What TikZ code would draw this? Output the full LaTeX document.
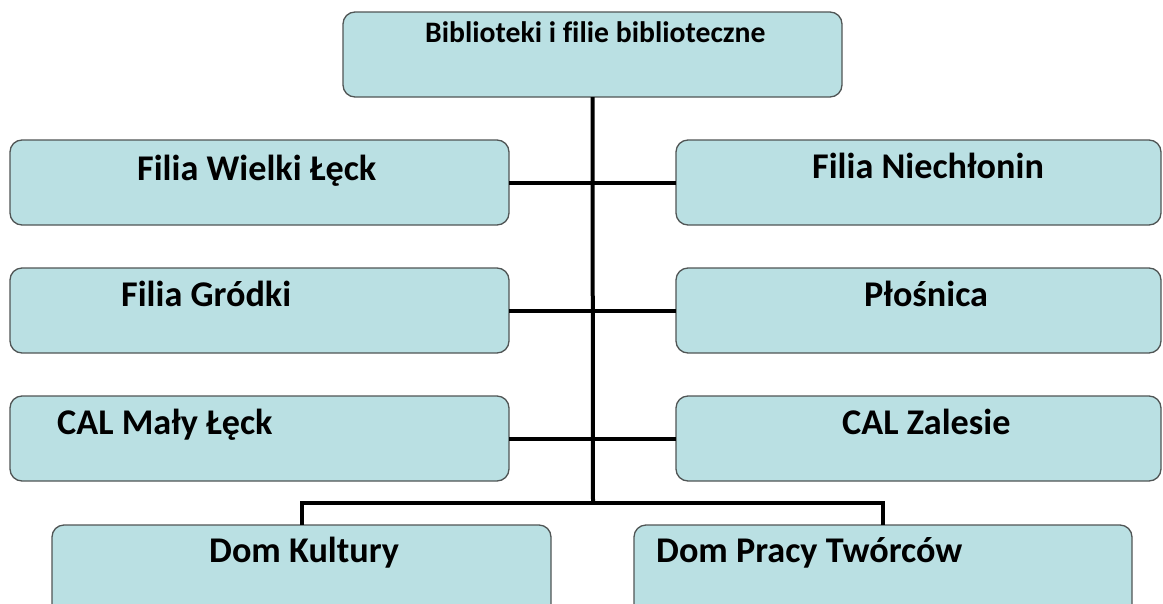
\documentclass[tikz,border=0pt]{standalone}
\usepackage{fontspec}
\setmainfont{Carlito}[Ligatures=NoCommon]
\definecolor{boxfill}{RGB}{186,224,227}
\definecolor{boxline}{RGB}{80,85,85}
\begin{document}
\begin{tikzpicture}[x=1pt,y=-1pt,
  box/.style={draw=boxline, line width=1.3pt, fill=boxfill, rounded corners=12pt,
    inner sep=0pt, outer sep=0pt, anchor=north west},
  lbl/.style={inner sep=0pt, anchor=base west, font=\bfseries\fontsize{36.2}{40}\selectfont},
  toplbl/.style={inner sep=0pt, anchor=base west, font=\bfseries\fontsize{29.7}{32}\selectfont},
  conn/.style={line width=4pt, black}]
\useasboundingbox (0,0) rectangle (1163,603);
% boxes
\node[box, minimum width=499pt, minimum height=85pt] (top) at (343,12) {};
\node[box, minimum width=499pt, minimum height=85pt] (wl) at (10,140) {};
\node[box, minimum width=485pt, minimum height=85pt] (nl) at (676,140) {};
\node[box, minimum width=499pt, minimum height=85pt] (gr) at (10,268) {};
\node[box, minimum width=485pt, minimum height=85pt] (pl) at (676,268) {};
\node[box, minimum width=499pt, minimum height=85pt] (ml) at (10,396) {};
\node[box, minimum width=485pt, minimum height=85pt] (za) at (676,396) {};
\node[box, minimum width=499pt, minimum height=95pt] (dk) at (52,525) {};
\node[box, minimum width=498pt, minimum height=95pt] (dp) at (634,525) {};
% texts
\node[toplbl] (ttop) at (425,42) {Biblioteki i filie biblioteczne};
\node[lbl] (twl) at (137,180) {Filia Wielki Łęck};
\node[lbl] (tnl) at (812,178) {Filia Niechłonin};
\node[lbl] (tgr) at (121,306) {Filia Gródki};
\node[lbl] (tpl) at (864,306) {Płośnica};
\node[lbl] (tml) at (57,434) {CAL Mały Łęck};
\node[lbl] (tza) at (842,434) {CAL Zalesie};
\node[lbl] (tdk) at (209,562) {Dom Kultury};
\node[lbl] (tdp) at (656,562) {Dom Pracy Twórców};
% connectors
\coordinate (j) at (593,503);
\draw[conn] (top.south) -- (j);
\draw[conn] (wl.east) -- (nl.west);
\draw[conn] (gr.east) -- (pl.west);
\draw[conn] (ml.east) -- (za.west);
\draw[conn, line join=miter] (dk.north) -- (dk.north |- j) -- (dp.north |- j) -- (dp.north);
\end{tikzpicture}
\end{document}
